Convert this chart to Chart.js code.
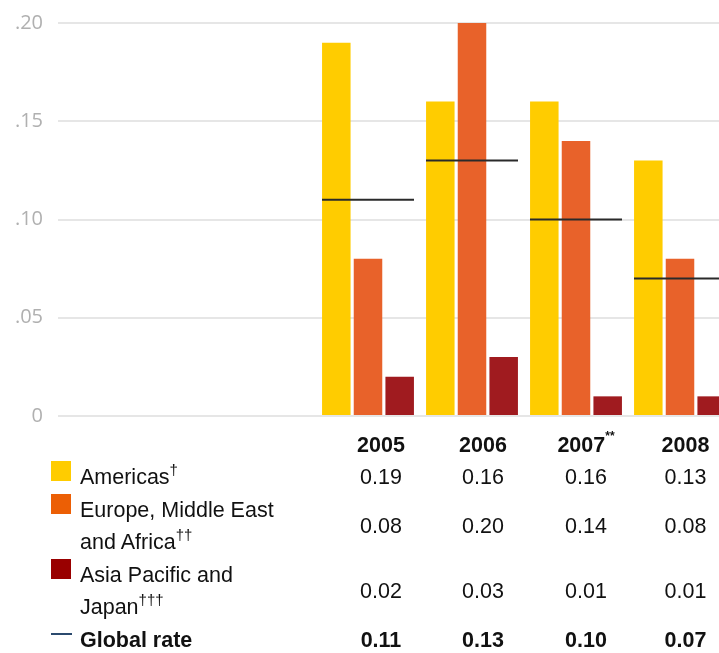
<!DOCTYPE html>
<html>
<head>
<meta charset="utf-8">
<script src="https://cdn.jsdelivr.net/npm/chart.js@4/dist/chart.umd.min.js"></script>
<style>
  html, body { margin: 0; padding: 0; background: #fff; overflow: hidden; width: 719px; height: 653px; }
  #chartWrap { position: absolute; left: 0; top: -4px; width: 732px; height: 447px; }
  #tbl { position: absolute; left: 0; top: 430px; width: 733px; font-family: "Liberation Sans", Arial, sans-serif; font-size: 21.5px; color: #111; }
  .row { display: grid; grid-template-columns: 330px 102px 102px 104px 95px; align-items: center; }
  .row .lab { position: relative; padding-left: 80px; width: 215px; line-height: 32px; }
  .row .val { text-align: center; line-height: 32px; }
  .hdr { height: 30px; }
  .hdr .val { font-weight: bold; line-height: 30px; }
  .sw { position: absolute; left: 51px; top: 0; width: 20px; height: 20px; }
  .ln { position: absolute; left: 51px; top: 9px; width: 21px; height: 2px; background: #2b4a6e; }
  sup { font-size: 15px; line-height: 0; vertical-align: 9px; }
  sup.ast { font-size: 12px; vertical-align: 12px; }
  .bold { font-weight: bold; }
</style>
</head>
<body>
<div id="chartWrap"><canvas id="c" width="732" height="447"></canvas></div>
<div id="tbl"></div>
<script>
// ---- data ----
const categories = ['2005', '2006', '2007', '2008'];
const categoryNotes = ['', '', '**', ''];
const seriesNames = ['Americas', 'Europe, Middle East and Africa', 'Asia Pacific and Japan'];
const seriesNotes = ['\u2020', '\u2020\u2020', '\u2020\u2020\u2020'];
const americas = [0.19, 0.16, 0.16, 0.13];
const emea = [0.08, 0.20, 0.14, 0.08];
const apj = [0.02, 0.03, 0.01, 0.01];
const globalRateName = 'Global rate';
const globalRate = [0.11, 0.13, 0.10, 0.07];
const yTickLabels = ['0', '.05', '.10', '.15', '.20'];

// ---- styles ----
const barColors = ['#FFCC00', '#E8622A', '#A01B1F'];
const swatchColors = ['#FFCC00', '#EC5F05', '#990000'];
const series = [americas, emea, apj];

const gridColor = '#e6e6e6';

new Chart(document.getElementById('c'), {
  type: 'bar',
  data: {
    labels: categories,
    datasets: [
      {
        type: 'line', label: globalRateName, data: globalRate, order: 0,
        showLine: false, pointStyle: 'line', pointRadius: 46, pointHoverRadius: 46,
        pointBorderWidth: 2, pointBorderColor: '#2a2a2a', pointBackgroundColor: '#2a2a2a',
        borderColor: '#2a2a2a', clip: false
      },
      ...series.map((d, i) => ({
        label: seriesNames[i], data: d, order: 1,
        backgroundColor: barColors[i], borderWidth: 0,
        categoryPercentage: 0.914, barPercentage: 0.9
      }))
    ]
  },
  options: {
    responsive: false,
    animation: false,
    events: [],
    layout: { autoPadding: false, padding: { top: 0, bottom: 0, left: 0, right: 0 } },
    plugins: { legend: { display: false }, tooltip: { enabled: false } },
    scales: {
      x: { display: false, grid: { display: false } },
      y: {
        min: 0, max: 0.2,
        afterFit(scale) { scale.width = 316; },
        border: { display: false },
        grid: { color: gridColor, lineWidth: 2, drawTicks: true, tickLength: 258, tickColor: gridColor, tickWidth: 2 },
        ticks: {
          stepSize: 0.05, padding: 15, color: '#b0b0b0',
          font: { family: 'Open Sans', size: 20 },
          callback: (v, i) => yTickLabels[i]
        }
      }
    }
  }
});

// ---- table legend ----
const tbl = document.getElementById('tbl');
function fmt(v) { return v.toFixed(2); }
let html = '<div class="row hdr"><div></div>';
categories.forEach((c, i) => {
  html += '<div class="val">' + c + (categoryNotes[i] ? '<sup class="ast">' + categoryNotes[i] + '</sup>' : '') + '</div>';
});
html += '</div>';
const rowHeights = [33, 65, 66];
series.forEach((d, s) => {
  html += '<div class="row" style="height:' + rowHeights[s] + 'px"><div class="lab"><span class="sw" style="background:' + swatchColors[s] + '"></span>' +
    seriesNames[s] + '<sup>' + seriesNotes[s] + '</sup></div>';
  d.forEach(v => { html += '<div class="val">' + fmt(v) + '</div>'; });
  html += '</div>';
});
html += '<div class="row" style="height:29px"><div class="lab bold"><span class="ln"></span>' + globalRateName + '</div>';
globalRate.forEach(v => { html += '<div class="val bold">' + fmt(v) + '</div>'; });
html += '</div>';
tbl.innerHTML = html;
</script>
</body>
</html>
